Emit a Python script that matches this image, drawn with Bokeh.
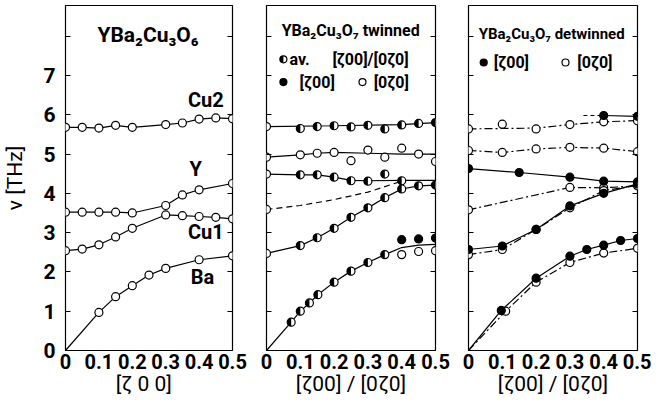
import math
from bokeh.plotting import figure
from bokeh.layouts import row
from bokeh.models import LinearAxis, Label, FixedTicker, CustomJSTickFormatter, Range1d
from bokeh.embed import file_html
from bokeh.resources import INLINE

FONT = "Roboto"

# ---------------- data: panel 1  YBa2Cu3O6 ----------------
p1_cu2_q = [0, 0.05, 0.1, 0.15, 0.2, 0.3, 0.35, 0.4, 0.45, 0.5]
p1_cu2_v = [5.68, 5.68, 5.66, 5.73, 5.68, 5.75, 5.79, 5.89, 5.92, 5.90]
p1_y_q = [0, 0.05, 0.1, 0.15, 0.2, 0.3, 0.35, 0.4, 0.5]
p1_y_v = [3.52, 3.52, 3.52, 3.52, 3.50, 3.69, 3.96, 4.09, 4.25]
p1_cu1_q = [0, 0.05, 0.1, 0.15, 0.2, 0.3, 0.35, 0.4, 0.45, 0.5]
p1_cu1_v = [2.54, 2.58, 2.69, 2.89, 3.11, 3.45, 3.43, 3.41, 3.39, 3.35]
p1_ba_q = [0.1, 0.15, 0.2, 0.25, 0.3, 0.4, 0.5]
p1_ba_v = [0.97, 1.37, 1.65, 1.92, 2.09, 2.31, 2.41]
p1_ba_line_q = [0] + p1_ba_q
p1_ba_line_v = [0] + p1_ba_v

# ---------------- data: panel 2  YBa2Cu3O7 twinned ----------------
p2_a_q = [0, 0.1, 0.15, 0.2, 0.25, 0.3, 0.35, 0.4, 0.45, 0.5]
p2_a_v = [5.70, 5.65, 5.70, 5.72, 5.69, 5.73, 5.64, 5.74, 5.78, 5.80]
p2_a_line_q = [0, 0.2, 0.4, 0.5]
p2_a_line_v = [5.70, 5.72, 5.75, 5.80]
p2_b_q = [0, 0.1, 0.15, 0.2, 0.25, 0.3, 0.35, 0.4, 0.45, 0.5]
p2_b_v = [4.92, 4.98, 5.02, 5.04, 4.83, 5.10, 4.92, 5.15, 5.00, 4.81]
p2_b_line_q = [0, 0.1, 0.15, 0.2, 0.3, 0.4, 0.45, 0.5]
p2_b_line_v = [4.92, 4.98, 5.02, 5.04, 5.02, 5.00, 5.00, 5.00]
p2_c_q = [0, 0.1, 0.15, 0.2, 0.25, 0.3, 0.35, 0.4]
p2_c_v = [4.49, 4.47, 4.47, 4.41, 4.32, 4.31, 4.49, 4.32]
p2_c_line_q = [0, 0.1, 0.15, 0.2, 0.25, 0.3, 0.4, 0.5]
p2_c_line_v = [4.49, 4.47, 4.47, 4.41, 4.33, 4.32, 4.33, 4.33]
p2_d_q = [0]
p2_d_v = [3.59]
p2_d_line_q = [0, 0.1, 0.2, 0.3, 0.4]
p2_d_line_v = [3.59, 3.69, 3.84, 4.03, 4.31]
p2_e_q = [0, 0.1, 0.15, 0.2, 0.25, 0.3, 0.35, 0.4, 0.45, 0.5]
p2_e_v = [2.47, 2.67, 2.87, 3.11, 3.39, 3.63, 3.89, 4.11, 4.19, 4.21]
p2_f_q = [0.073, 0.1, 0.127, 0.152, 0.2, 0.25, 0.3, 0.35]
p2_f_v = [0.72, 1.00, 1.21, 1.42, 1.74, 2.02, 2.24, 2.44]
p2_f_line_q = [0] + p2_f_q + [0.4, 0.45, 0.5]
p2_f_line_v = [0] + p2_f_v + [2.62, 2.68, 2.70]
p2_f_fill_q = [0.4, 0.45, 0.5]
p2_f_fill_v = [2.82, 2.84, 2.86]
p2_f_open_q = [0.4, 0.45, 0.5]
p2_f_open_v = [2.44, 2.52, 2.54]

# ---------------- data: panel 3  YBa2Cu3O7 detwinned ----------------
p3_a_fill_q = [0.4, 0.5]
p3_a_fill_v = [5.98, 5.96]
p3_a_dash_q = [0.34, 0.4]
p3_a_dash_v = [5.98, 5.98]
p3_a_open_q = [0, 0.1, 0.2, 0.3, 0.4, 0.5]
p3_a_open_v = [5.64, 5.76, 5.64, 5.75, 5.82, 5.85]
p3_a_line_q = [0, 0.2, 0.3, 0.4, 0.5]
p3_a_line_v = [5.64, 5.66, 5.75, 5.82, 5.85]
p3_b_open_q = [0, 0.1, 0.2, 0.3, 0.4, 0.5]
p3_b_open_v = [5.09, 5.04, 5.13, 5.17, 5.15, 5.06]
p3_c_fill_q = [0, 0.15, 0.3, 0.4, 0.5]
p3_c_fill_v = [4.63, 4.53, 4.41, 4.31, 4.29]
p3_d_open_q = [0, 0.3, 0.4, 0.5]
p3_d_open_v = [3.58, 4.15, 4.14, 4.19]
p3_e_fill_q = [0, 0.1, 0.2, 0.3, 0.4, 0.5]
p3_e_fill_v = [2.57, 2.66, 3.08, 3.68, 4.00, 4.24]
p3_e_open_q = [0, 0.1, 0.2, 0.3, 0.4, 0.5]
p3_e_open_v = [2.44, 2.57, 3.08, 3.63, 4.07, 4.20]
p3_f_fill_q = [0.097, 0.2, 0.3, 0.35, 0.4, 0.45, 0.5]
p3_f_fill_v = [1.02, 1.84, 2.40, 2.57, 2.68, 2.80, 2.85]
p3_f_open_q = [0.11, 0.2, 0.3, 0.4, 0.5]
p3_f_open_v = [1.00, 1.74, 2.24, 2.48, 2.60]

x_ticks = [0, 0.1, 0.2, 0.3, 0.4, 0.5]
y_ticks = [0, 1, 2, 3, 4, 5, 6, 7, 8]

SOLID = "solid"
DASH = "6 4"
DASHDOT = "8 3 2 3"
MS = 8


def make_fig(bl, br, ylabels, xlabel):
    p = figure(frame_width=167 if ylabels else 169, frame_height=345,
               min_border_left=bl, min_border_right=br, min_border_top=5,
               min_border_bottom=46, x_range=Range1d(0, 0.5), y_range=Range1d(0, 8.78),
               output_backend="svg", toolbar_location=None, tools="")
    p.xgrid.visible = False
    p.ygrid.visible = False
    p.outline_line_color = "black"
    p.outline_line_width = 1.2
    p.background_fill_color = "white"
    p.border_fill_color = "white"
    xa = p.xaxis[0]
    xa.ticker = FixedTicker(ticks=x_ticks)
    xa.formatter = CustomJSTickFormatter(code="return tick == 0 ? '0' : tick.toFixed(1);")
    xa.major_tick_in = 0
    xa.major_tick_out = 0
    xa.minor_tick_in = 0
    xa.minor_tick_out = 0
    xa.axis_line_color = None
    xa.major_label_standoff = 3
    xa.major_label_text_font = FONT
    xa.major_label_text_font_style = "bold"
    xa.major_label_text_font_size = "20px"
    xa.major_label_text_color = "black"
    xa.axis_label = xlabel
    xa.axis_label_text_font = FONT
    xa.axis_label_text_font_style = "normal"
    xa.axis_label_text_font_size = "21px"
    xa.axis_label_text_color = "black"
    xa.axis_label_standoff = 0
    ya = p.yaxis[0]
    ya.ticker = FixedTicker(ticks=y_ticks)
    if ylabels:
        ya.formatter = CustomJSTickFormatter(code="return tick >= 8 ? '' : tick.toFixed(0);")
        ya.axis_label = "ν [THz]"
        ya.axis_label_text_font = FONT
        ya.axis_label_text_font_style = "normal"
        ya.axis_label_text_font_size = "21px"
        ya.axis_label_text_color = "black"
        ya.axis_label_standoff = 13
    else:
        ya.formatter = CustomJSTickFormatter(code="return '';")
    ya.major_tick_in = 5
    ya.major_tick_out = 0
    ya.minor_tick_in = 0
    ya.minor_tick_out = 0
    ya.axis_line_color = None
    ya.major_tick_line_width = 1.2
    ya.major_label_standoff = 10
    ya.major_label_text_font = FONT
    ya.major_label_text_font_style = "bold"
    ya.major_label_text_font_size = "21px"
    ya.major_label_text_color = "black"
    ra = LinearAxis(ticker=FixedTicker(ticks=y_ticks),
                    formatter=CustomJSTickFormatter(code="return '';"),
                    major_tick_in=5, major_tick_out=0, minor_tick_in=0, minor_tick_out=0,
                    axis_line_color=None, major_tick_line_width=1.2, major_label_standoff=0)
    p.add_layout(ra, "right")
    return p


def line(p, q, v, dash=SOLID):
    p.line(q, v, line_color="black", line_width=1.2, line_dash=dash)


def open_pts(p, q, v, size=MS):
    p.scatter(q, v, size=size, marker="circle", fill_color="white",
              line_color="black", line_width=1.2)


def fill_pts(p, q, v, size=MS):
    p.scatter(q, v, size=size, marker="circle", fill_color="black",
              line_color="black", line_width=1.2)


def half_pts(p, q, v, size=MS):
    p.scatter(q, v, size=size, marker="circle", fill_color="white", line_color=None)
    p.wedge(x=q, y=v, radius=size / 2, radius_units="screen",
            start_angle=math.pi / 2, end_angle=3 * math.pi / 2,
            fill_color="black", line_color=None)
    p.scatter(q, v, size=size, marker="circle", fill_color=None,
              line_color="black", line_width=1.2)


def label(p, x, y, text, size="20px", style="bold", align="center"):
    p.add_layout(Label(x=x, y=y, text=text, text_align=align, text_baseline="middle",
                       text_font=FONT, text_font_style=style, text_font_size=size,
                       text_color="black"))


# ---------------- panel 1 ----------------
p1 = make_fig(57, 17, True, "[ζ  0  0]")
line(p1, p1_cu2_q, p1_cu2_v)
line(p1, p1_y_q, p1_y_v)
line(p1, p1_cu1_q, p1_cu1_v)
line(p1, p1_ba_line_q, p1_ba_line_v)
open_pts(p1, p1_cu2_q, p1_cu2_v)
open_pts(p1, p1_y_q, p1_y_v)
open_pts(p1, p1_cu1_q, p1_cu1_v)
open_pts(p1, p1_ba_q, p1_ba_v)
label(p1, 0.247, 8.02, "YBa₂Cu₃O₆", size="21px")
label(p1, 0.42, 6.37, "Cu2")
label(p1, 0.39, 4.61, "Y")
label(p1, 0.42, 3.01, "Cu1")
label(p1, 0.41, 1.86, "Ba")

# ---------------- panel 2 ----------------
p2 = make_fig(17, 16, False, "[ζ00] / [0ζ0]")
line(p2, p2_a_line_q, p2_a_line_v)
line(p2, p2_b_line_q, p2_b_line_v)
line(p2, p2_c_line_q, p2_c_line_v)
line(p2, p2_d_line_q, p2_d_line_v, DASH)
line(p2, p2_e_q, p2_e_v)
line(p2, p2_f_line_q, p2_f_line_v)
half_pts(p2, p2_a_q, p2_a_v)
open_pts(p2, p2_b_q, p2_b_v)
half_pts(p2, p2_c_q, p2_c_v)
open_pts(p2, p2_d_q, p2_d_v)
half_pts(p2, p2_e_q, p2_e_v)
half_pts(p2, p2_f_q, p2_f_v)
fill_pts(p2, p2_f_fill_q, p2_f_fill_v)
open_pts(p2, p2_f_open_q, p2_f_open_v)
label(p2, 0.249, 8.15, "YBa₂Cu₃O₇ twinned", size="16px")
half_pts(p2, [0.05], [7.41], size=7)
label(p2, 0.068, 7.41, "av.", size="16px", align="left")
label(p2, 0.195, 7.41, "[ζ00]/[0ζ0]", size="16px", align="left")
fill_pts(p2, [0.05], [6.83], size=7)
label(p2, 0.098, 6.83, "[ζ00]", size="16px", align="left")
open_pts(p2, [0.284], [6.83], size=7)
label(p2, 0.317, 6.83, "[0ζ0]", size="16px", align="left")

# ---------------- panel 3 ----------------
p3 = make_fig(17, 14, False, "[ζ00] / [0ζ0]")
line(p3, p3_a_dash_q, p3_a_dash_v, "4 3")
line(p3, p3_a_fill_q, p3_a_fill_v)
line(p3, p3_a_line_q, p3_a_line_v, DASHDOT)
line(p3, p3_b_open_q, p3_b_open_v, DASHDOT)
line(p3, p3_c_fill_q, p3_c_fill_v)
line(p3, p3_d_open_q, p3_d_open_v, DASHDOT)
line(p3, p3_e_fill_q, p3_e_fill_v)
line(p3, p3_e_open_q, p3_e_open_v, DASHDOT)
line(p3, [0] + p3_f_fill_q, [0] + p3_f_fill_v)
line(p3, [0] + p3_f_open_q, [0] + p3_f_open_v, DASHDOT)
open_pts(p3, p3_a_open_q, p3_a_open_v)
fill_pts(p3, p3_a_fill_q, p3_a_fill_v)
open_pts(p3, p3_b_open_q, p3_b_open_v)
open_pts(p3, p3_d_open_q, p3_d_open_v)
open_pts(p3, p3_e_open_q, p3_e_open_v)
fill_pts(p3, p3_c_fill_q, p3_c_fill_v)
fill_pts(p3, p3_e_fill_q, p3_e_fill_v)
open_pts(p3, p3_f_open_q, p3_f_open_v)
fill_pts(p3, p3_f_fill_q, p3_f_fill_v)
label(p3, 0.246, 8.05, "YBa₂Cu₃O₇ detwinned", size="15px")
fill_pts(p3, [0.045], [7.33], size=7)
label(p3, 0.075, 7.33, "[ζ00]", size="16px", align="left")
open_pts(p3, [0.287], [7.33], size=7)
label(p3, 0.322, 7.33, "[0ζ0]", size="16px", align="left")

layout = row(p1, p2, p3, spacing=0)
open("out.html", "w").write(file_html(layout, INLINE))
